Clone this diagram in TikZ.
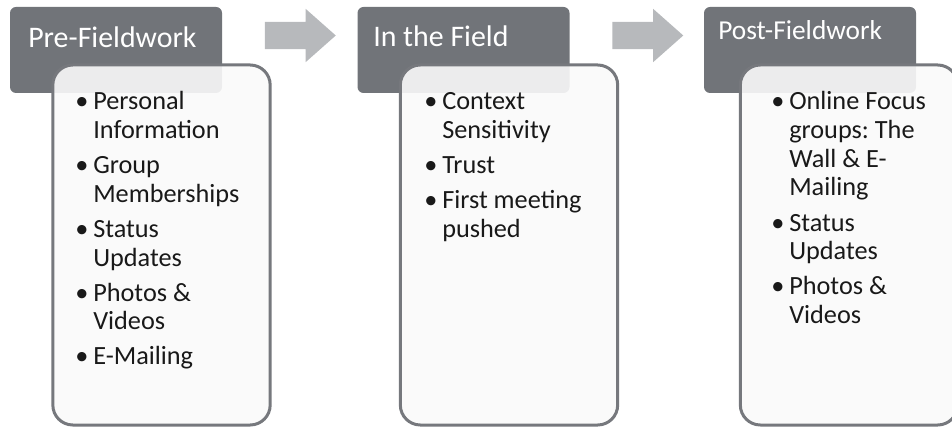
\documentclass[tikz,border=0pt]{standalone}
\usepackage{fontspec}
\setmainfont{Carlito}
\usepackage{tikz}
\definecolor{headgray}{RGB}{113,116,121}
\definecolor{linegray}{RGB}{118,120,125}
\definecolor{arrowgray}{RGB}{183,185,188}
\definecolor{textblack}{RGB}{25,25,25}
\frenchspacing
\newcommand{\blt}{\makebox[13.5pt][l]{\textbullet}}
\tikzstyle{head} = [rectangle, rounded corners=4.5pt, fill=headgray, minimum width=159pt, minimum height=64.5pt, inner sep=0pt]
\tikzstyle{headtext} = [text=white, inner sep=0pt, anchor=base west, font=\fontsize{22.4}{26}\selectfont]
\tikzstyle{body} = [rectangle, rounded corners=15pt, draw=linegray, line width=2.25pt, fill=white!98!black, fill opacity=0.9, minimum width=163pt, minimum height=270pt, inner sep=0pt]
\tikzstyle{items} = [text=textblack, inner sep=0pt, anchor=base west, font=\fontsize{19.7}{21.5}\selectfont]
\tikzstyle{flow} = [single arrow, fill=arrowgray, minimum height=53.25pt, inner xsep=0pt, inner ysep=10.1pt, single arrow head extend=9.75pt, single arrow tip angle=83]
\usetikzlibrary{shapes.arrows, positioning}

\begin{document}
\begin{tikzpicture}[x=0.75pt, y=-0.75pt]
          \useasboundingbox (0,0) rectangle (952,427);

          \node[head] (head1) at (116,50) {};
          \node[head] (head2) at (463.5,50) {};
          \node[head] (head3) at (810,50) {};

          \node[flow] (arr1) at (292.5,35.5) {};
          \node[flow] (arr2) at (640,35.5) {};

          \node[body] (body1) at (161.5,245) {};
          \node[body] (body2) at (509,245) {};
          \node[body] (body3) at (849,245) {};

          \node[headtext] (title1) at (28,48) {Pre-Fieldwork};
          \node[headtext] (title2) at (373,47) {In the Field};
          \node[headtext, font=\fontsize{20.5}{24}\selectfont] (title3) at (718,40) {Post-Fieldwork};

          \node[items] (list1) at (75,110) {\begin{tabular}[t]{@{}l@{}l@{}}
            \blt & Personal\\
                 & Information\\[4.8pt]
            \blt & Group\\
                 & Memberships\\[4.8pt]
            \blt & Status\\
                 & Updates\\[4.8pt]
            \blt & Photos \&\\
                 & Videos\\[4.8pt]
            \blt & E-Mailing
          \end{tabular}};
          \node[items] (list2) at (424,110) {\begin{tabular}[t]{@{}l@{}l@{}}
            \blt & Context\\
                 & Sensitivity\\[4.8pt]
            \blt & Trust\\[4.8pt]
            \blt & First meeting\\
                 & pushed
          \end{tabular}};
          \node[items] (list3) at (771,110) {\begin{tabular}[t]{@{}l@{}l@{}}
            \blt & Online Focus\\
                 & groups: The\\
                 & Wall \& E-\\
                 & Mailing\\[4.8pt]
            \blt & Status\\
                 & Updates\\[4.8pt]
            \blt & Photos \&\\
                 & Videos
          \end{tabular}};
        \end{tikzpicture}
\end{document}
